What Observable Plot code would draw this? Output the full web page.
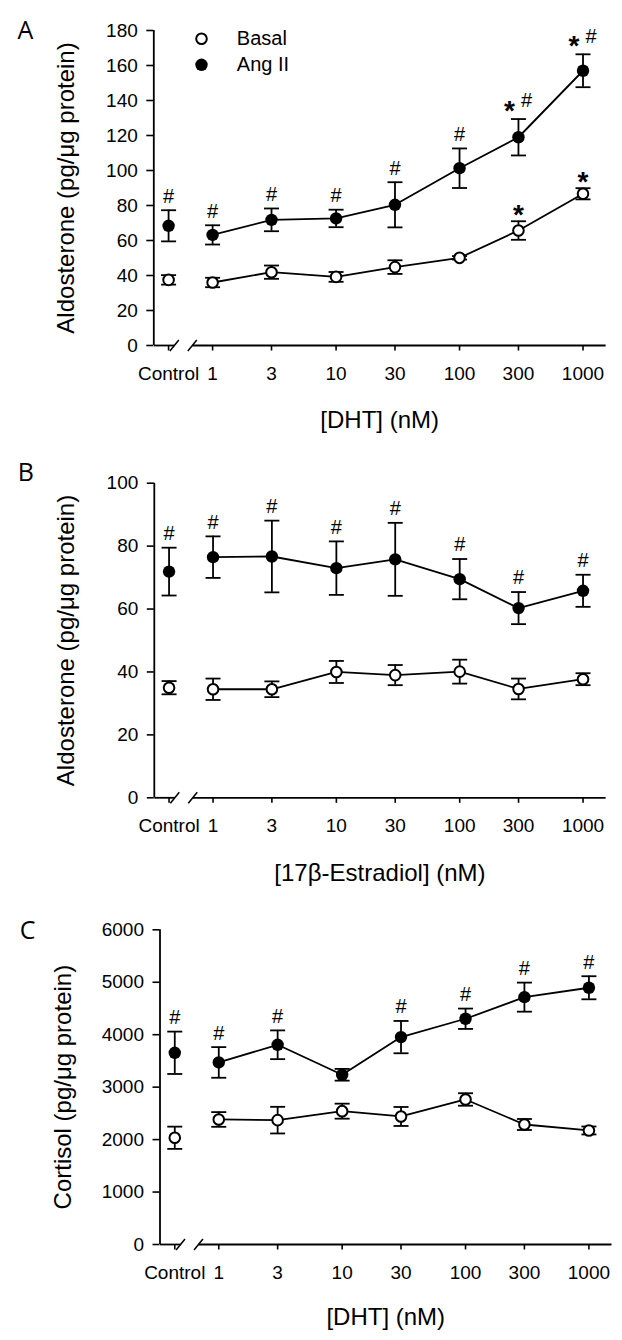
<!DOCTYPE html>
<html>
<head>
<meta charset="utf-8">
<script src="https://cdn.jsdelivr.net/npm/d3@7"></script>
<script src="https://cdn.jsdelivr.net/npm/@observablehq/plot@0.6"></script>
<style>
html, body { margin: 0; padding: 0; background: #fff; }
#root { position: relative; width: 622px; height: 1340px; overflow: hidden; background: #fff; }
#root svg { position: absolute; left: 0; }
#root svg [aria-label$="axis tick"] path, #root svg [aria-label="y-axis"] line { stroke-width: 1.6px; }
</style>
</head>
<body>
<div id="root"></div>
<script>
// ---------- shared categories ----------
const doseLabels = ["Control", "1", "3", "10", "30", "100", "300", "1000"];
const doseNM = [null, 1, 3, 10, 30, 100, 300, 1000];
const CONTROL_AT = 0.44;          // where the control group sits on the log axis
const X_DOMAIN = [0.334, 1524];
const BREAK_AT = [0.49, 0.685];   // axis-break slashes
const SLASH_F = 1.087;

// ---------- Panel A : aldosterone vs DHT ----------
const aBasal    = [37.5, 36.0, 41.9, 39.2, 44.8, 50.1, 65.7, 86.7];
const aBasalSem = [2.7, 2.7, 3.8, 2.8, 3.9, 1.0, 5.3, 3.2];
const aAng      = [68.4, 63.2, 71.8, 72.6, 80.4, 101.3, 119.0, 157.0];
const aAngSem   = [8.9, 5.5, 6.5, 5.0, 12.9, 11.3, 10.4, 9.4];
const aHash     = [1, 1, 1, 1, 1, 1, 1, 1];
const aStarAng  = [0, 0, 0, 0, 0, 0, 1, 1];
const aStarBas  = [0, 0, 0, 0, 0, 0, 1, 1];
const aYTicks   = [0, 20, 40, 60, 80, 100, 120, 140, 160, 180];

// ---------- Panel B : aldosterone vs 17β-estradiol ----------
const bBasal    = [35.0, 34.5, 34.5, 40.0, 39.0, 40.1, 34.6, 37.7];
const bBasalSem = [2.1, 3.4, 2.5, 3.5, 3.2, 3.8, 3.3, 1.9];
const bAng      = [71.9, 76.5, 76.7, 73.0, 75.8, 69.5, 60.3, 65.8];
const bAngSem   = [7.6, 6.6, 11.4, 8.5, 11.6, 6.4, 5.1, 5.1];
const bHash     = [1, 1, 1, 1, 1, 1, 1, 1];
const bStarAng  = [0, 0, 0, 0, 0, 0, 0, 0];
const bStarBas  = [0, 0, 0, 0, 0, 0, 0, 0];
const bYTicks   = [0, 20, 40, 60, 80, 100];

// ---------- Panel C : cortisol vs DHT ----------
const cBasal    = [2035, 2384, 2371, 2542, 2441, 2765, 2288, 2174];
const cBasalSem = [212, 140, 254, 143, 181, 119, 105, 76];
const cAng      = [3655, 3471, 3808, 3236, 3954, 4304, 4716, 4895];
const cAngSem   = [404, 292, 274, 112, 308, 194, 277, 220];
const cHash     = [1, 1, 1, 0, 1, 1, 1, 1];
const cStarAng  = [0, 0, 0, 0, 0, 0, 0, 0];
const cStarBas  = [0, 0, 0, 0, 0, 0, 0, 0];
const cYTicks   = [0, 1000, 2000, 3000, 4000, 5000, 6000];

const legendLabels = ["Basal", "Ang II"];

const FONT = "'Liberation Sans', Arial, Helvetica, sans-serif";
const capSymbol = { draw(ctx) { ctx.moveTo(-7.5, 0); ctx.lineTo(7.5, 0); } };

function panel(cfg) {
  const rows = [];
  doseLabels.forEach((lab, i) => {
    const x = i === 0 ? CONTROL_AT : doseNM[i];
    rows.push({group: "Basal", label: lab, x, mean: cfg.basal[i], sem: cfg.basalSem[i], star: cfg.starBas[i], hash: 0});
    rows.push({group: "Ang II", label: lab, x, mean: cfg.ang[i], sem: cfg.angSem[i], star: cfg.starAng[i], hash: cfg.hash[i]});
  });
  const lineRows = rows.filter(d => d.label !== "Control");
  const ang = rows.filter(d => d.group === "Ang II");
  const bas = rows.filter(d => d.group === "Basal");
  const top = d => d.mean + d.sem;
  const bot = d => d.mean - d.sem;
  const yMax = cfg.yTicks[cfg.yTicks.length - 1];
  const frameH = cfg.height - cfg.marginTop - cfg.marginBottom;
  const perPx = yMax / frameH;
  const xTicks = doseLabels.map((l, i) => ({v: i === 0 ? CONTROL_AT : doseNM[i], label: l}));

  const marks = [
    // axes
    Plot.ruleX([X_DOMAIN[0]], {y1: 0, y2: yMax, strokeWidth: 1.8}),
    Plot.link([[X_DOMAIN[0], BREAK_AT[0]], [BREAK_AT[1], X_DOMAIN[1]]], {x1: d => d[0], x2: d => d[1], y1: 0, y2: 0, strokeWidth: 1.8}),
    Plot.link(BREAK_AT, {x1: d => d / SLASH_F, x2: d => d * SLASH_F, y1: -5.5 * perPx, y2: 5.5 * perPx, strokeWidth: 1.5}),
    Plot.ruleX(xTicks, {x: "v", y1: 0, y2: -5.5 * perPx, strokeWidth: 1.6}),
    Plot.text(xTicks, {x: "v", y: 0, text: "label", dy: 28.5, fontSize: 19, textAnchor: "middle", lineAnchor: "middle"}),
    // data
    Plot.line(lineRows, {x: "x", y: "mean", z: "group", stroke: "black", strokeWidth: 1.8}),
    Plot.ruleX(rows, {x: "x", y1: bot, y2: top, stroke: "black", strokeWidth: 1.8}),
    Plot.dot(rows, {x: "x", y: top, symbol: capSymbol, fill: "none", stroke: "black", strokeWidth: 1.8}),
    Plot.dot(rows, {x: "x", y: bot, symbol: capSymbol, fill: "none", stroke: "black", strokeWidth: 1.8}),
    Plot.dot(ang, {x: "x", y: "mean", r: 6.2, fill: "black", stroke: "none"}),
    Plot.dot(bas, {x: "x", y: "mean", r: 5.3, fill: "white", stroke: "black", strokeWidth: 2}),
    // significance marks
    Plot.text(ang.filter(d => d.hash && !d.star), {x: "x", y: top, text: () => "#", dy: -14, fontSize: 20, textAnchor: "middle", lineAnchor: "middle"}),
    Plot.text(ang.filter(d => d.hash && d.star), {x: "x", y: top, text: () => "#", dx: 8, dy: -18, fontSize: 20, textAnchor: "middle", lineAnchor: "middle"}),
    Plot.text(ang.filter(d => d.star), {x: "x", y: top, text: () => "*", dx: -9, dy: -8, fontSize: 28, fontWeight: "bold", textAnchor: "middle", lineAnchor: "middle"}),
    Plot.text(bas.filter(d => d.star), {x: "x", y: top, text: () => "*", dy: -6, fontSize: 28, fontWeight: "bold", textAnchor: "middle", lineAnchor: "middle"}),
    // titles
    Plot.text([cfg.yTitle], {frameAnchor: "left", text: d => d, rotate: -90, dx: cfg.yTitleDx, fontSize: 24, textAnchor: "middle", lineAnchor: "middle"}),
    Plot.text([cfg.xTitle], {frameAnchor: "bottom", text: d => d, dy: cfg.xTitleDy, fontSize: 24, textAnchor: "middle", lineAnchor: "middle"}),
    Plot.text([cfg.letter], {frameAnchor: "top-left", text: d => d, dx: cfg.letterDx, dy: cfg.letterDy, fontSize: 25, fontFamily: "'Open Sans', sans-serif", textAnchor: "middle", lineAnchor: "middle"})
  ];
  if (cfg.legend) {
    marks.push(
      Plot.dot([legendLabels[0]], {frameAnchor: "top-left", dx: 47.7, dy: 8.3, r: 5.3, fill: "white", stroke: "black", strokeWidth: 2}),
      Plot.dot([legendLabels[1]], {frameAnchor: "top-left", dx: 47.7, dy: 34.3, r: 6.2, fill: "black", stroke: "none"}),
      Plot.text([legendLabels[0]], {frameAnchor: "top-left", text: d => d, dx: 83, dy: 8.3, fontSize: 20, textAnchor: "start", lineAnchor: "middle"}),
      Plot.text([legendLabels[1]], {frameAnchor: "top-left", text: d => d, dx: 83, dy: 34.3, fontSize: 20, textAnchor: "start", lineAnchor: "middle"})
    );
  }

  const svg = Plot.plot({
    width: 622,
    height: cfg.height,
    marginTop: cfg.marginTop,
    marginBottom: cfg.marginBottom,
    marginLeft: cfg.marginLeft,
    marginRight: cfg.marginRight,
    style: {fontFamily: FONT, fontSize: "19px", background: "white", color: "black", overflow: "visible"},
    x: {type: "log", domain: X_DOMAIN, axis: null},
    y: {domain: [0, yMax], ticks: cfg.yTicks, tickFormat: d => String(d), tickSize: 7, tickPadding: 9, label: null},
    marks
  });
  svg.style.top = cfg.top + "px";
  return svg;
}

const root = document.getElementById("root");
root.appendChild(panel({
  top: 0, height: 440, marginTop: 30, marginBottom: 95, marginLeft: 153.3, marginRight: 16.9,
  basal: aBasal, basalSem: aBasalSem, ang: aAng, angSem: aAngSem, hash: aHash, starAng: aStarAng, starBas: aStarBas,
  yTicks: aYTicks, yTitle: "Aldosterone (pg/μg protein)", yTitleDx: -87, xTitle: "[DHT] (nM)", xTitleDy: 75,
  letter: "A", letterDx: -128.3, letterDy: 0.7, legend: true
}));
root.appendChild(panel({
  top: 440, height: 450, marginTop: 42.7, marginBottom: 92.7, marginLeft: 153.8, marginRight: 16.9,
  basal: bBasal, basalSem: bBasalSem, ang: bAng, angSem: bAngSem, hash: bHash, starAng: bStarAng, starBas: bStarBas,
  yTicks: bYTicks, yTitle: "Aldosterone (pg/μg protein)", yTitleDx: -87.5, xTitle: "[17β-Estradiol] (nM)", xTitleDy: 76,
  letter: "B", letterDx: -128.5, letterDy: -9.9, legend: false
}));
root.appendChild(panel({
  top: 890, height: 450, marginTop: 39.3, marginBottom: 96, marginLeft: 159.5, marginRight: 11,
  basal: cBasal, basalSem: cBasalSem, ang: cAng, angSem: cAngSem, hash: cHash, starAng: cStarAng, starBas: cStarBas,
  yTicks: cYTicks, yTitle: "Cortisol (pg/μg protein)", yTitleDx: -96.5, xTitle: "[DHT] (nM)", xTitleDy: 73.3,
  letter: "C", letterDx: -132.5, letterDy: 0.7, legend: false
}));
</script>
</body>
</html>
